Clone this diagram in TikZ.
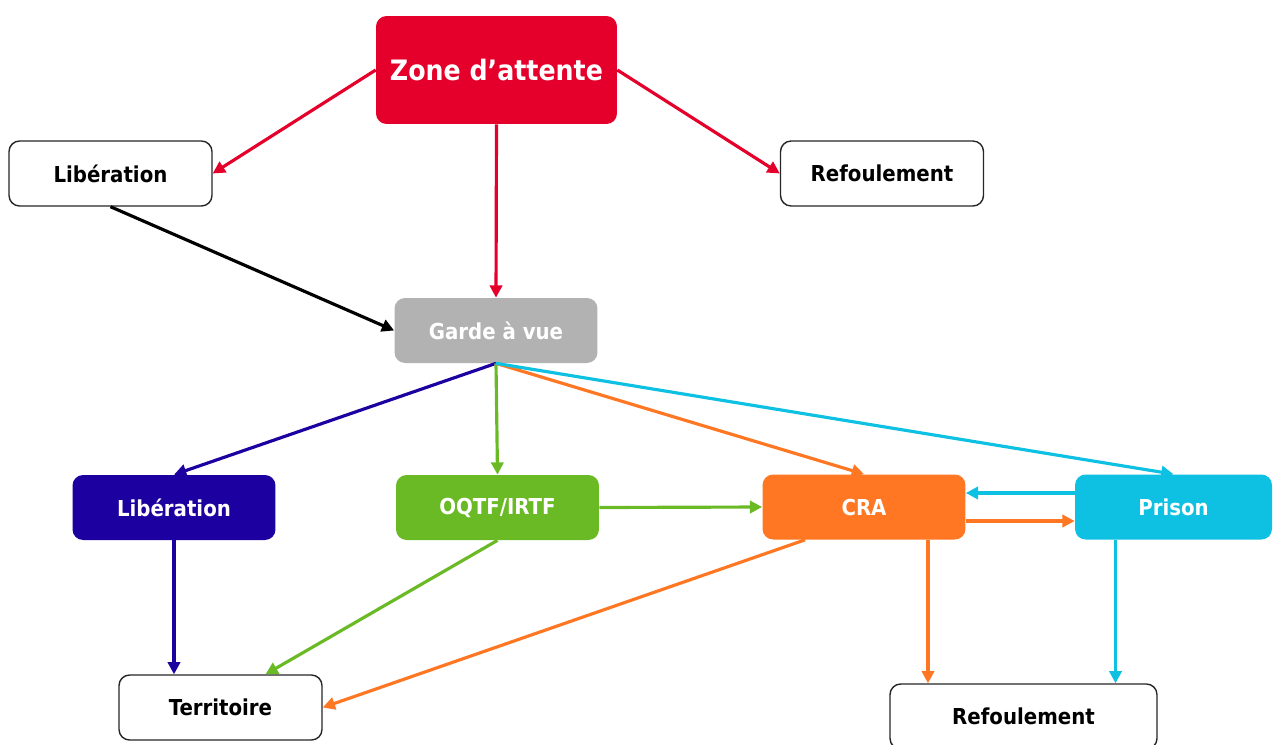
\documentclass[tikz,border=0pt]{standalone}
\usepackage{fontspec}
\setmainfont{DejaVu Sans Condensed}
\definecolor{zonered}{RGB}{228, 0, 43}
\definecolor{gardegray}{RGB}{178, 178, 178}
\definecolor{libblue}{RGB}{28, 0, 160}
\definecolor{oqtfgreen}{RGB}{106, 186, 38}
\definecolor{craorange}{RGB}{255, 119, 34}
\definecolor{prisoncyan}{RGB}{14, 192, 225}
\usetikzlibrary{arrows.meta, positioning, calc}

\begin{document}
\begin{tikzpicture}[x=0.02cm, y=-0.02cm,
  box/.style={rounded corners=6pt, minimum width=4.06cm, minimum height=1.3cm, inner sep=2pt, font=\fontsize{12.5}{15}\selectfont\bfseries},
  whitebox/.style={box, draw=black!85, line width=0.8pt, fill=white},
  colorbox/.style={box, fill=#1, text=white},
  link/.style={-{Triangle[length=7pt, width=7pt]}, line width=1.8pt, #1}]
  \useasboundingbox (0,0) rectangle (1273,744);

  % Top
  \node[colorbox=zonered, minimum width=4.82cm, minimum height=2.16cm, font=\fontsize{16}{19}\selectfont\bfseries] (zone) at (496.5, 70) {Zone d’attente};
  \node[whitebox] (libhaut) at (110.5, 173.5) {Libération};
  \node[whitebox] (refhaut) at (882, 173.5) {Refoulement};

  % Middle
  \node[colorbox=gardegray] (garde) at (496, 330.5) {Garde à vue};

  % Row of measures
  \node[colorbox=libblue] (libbas) at (174, 507.5) {Libération};
  \node[colorbox=oqtfgreen] (oqtf) at (497.5, 507.5) {OQTF/IRTF};
  \node[colorbox=craorange] (cra) at (864, 507) {CRA};
  \node[colorbox=prisoncyan, minimum width=3.94cm] (prison) at (1173.5, 507) {Prison};

  % Bottom
  \node[whitebox] (terr) at (220.5, 707.5) {Territoire};
  \node[whitebox, minimum width=5.34cm] (refbas) at (1023.5, 716.5) {Refoulement};

  % From the waiting zone
  \draw[link=zonered] (zone.west) -- (libhaut.east);
  \draw[link=zonered] (zone.east) -- (refhaut.west);
  \draw[link=zonered] (zone.south) -- (garde.north);
  \draw[link=black] (libhaut.south) -- (garde.west);

  % From custody
  \draw[link=libblue] (garde.south) -- (libbas.north);
  \draw[link=oqtfgreen] (garde.south) -- (oqtf.north);
  \draw[link=craorange] (garde.south) -- (cra.north);
  \draw[link=prisoncyan] (garde.south) -- (prison.north);

  % Between measures
  \draw[link=oqtfgreen] (oqtf.east) -- (cra.west);
  \draw[link=prisoncyan] ([yshift=0.28cm]prison.west) -- ([yshift=0.28cm]cra.east);
  \draw[link=craorange] ([yshift=-0.28cm]cra.east) -- ([yshift=-0.28cm]prison.west);

  % Outcomes
  \draw[link=libblue] (libbas.south) -- (libbas.south |- terr.north);
  \draw[link=oqtfgreen] (oqtf.south) -- ([xshift=0.9cm]terr.north);
  \draw[link=craorange] ([xshift=-1.18cm]cra.south) -- (terr.east);
  \draw[link=craorange] ([xshift=1.28cm]cra.south) -- ([xshift=1.28cm]cra.south |- refbas.north);
  \draw[link=prisoncyan] ([xshift=-1.16cm]prison.south) -- ([xshift=-1.16cm]prison.south |- refbas.north);
\end{tikzpicture}
\end{document}
